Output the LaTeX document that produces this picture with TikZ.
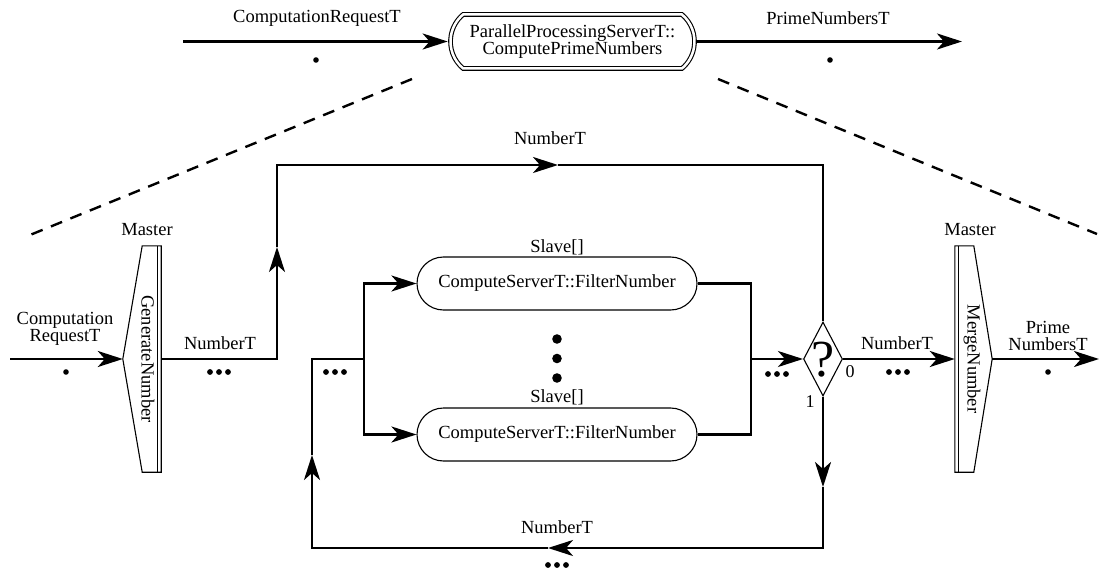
\documentclass[tikz,border=0pt]{standalone}
\usepackage{fontspec}
\setmainfont{Liberation Serif}
\usetikzlibrary{arrows.meta,shapes.geometric,shapes.misc,calc}
\begin{document}
\begin{tikzpicture}[x=1pt,y=-1pt,
  txt/.style={font=\fontsize{18.5}{17}\selectfont, inner sep=0pt},
  conn/.style={line width=2.6pt},
  tip/.style={-{Stealth[length=25pt,width=16pt,inset=7pt]}},
  outline/.style={line width=1.1pt, line join=miter},
  proc/.style={rounded rectangle, draw, outline, minimum width=280pt,
    minimum height=53pt, inner sep=0pt, txt},
  dashline/.style={line width=2.4pt, dash pattern=on 12pt off 9pt},
  onedot/.pic={\fill (0,0) circle (2.8pt);},
  tridots/.pic={\foreach \dx in {-9,0,9} \fill (\dx,0) circle (2.9pt);},
  branch/.style={font=\fontsize{18}{18}\selectfont, inner sep=0pt},
]
\useasboundingbox (0,0) rectangle (1100,572);

% ---- top level: the whole server process ----
\node[rounded rectangle, rounded rectangle arc length=100, draw, outline,
      double, double distance=2.5pt, minimum width=244pt, minimum height=54pt,
      inner sep=0pt, align=center, txt] (top) at (572.5,41.5)
      {ParallelProcessingServerT::\\ComputePrimeNumbers};
\coordinate (reqin) at (183,41.5);
\coordinate (primeout) at (962,41.5);
\draw[conn,tip,shorten >=2.3pt] (reqin) -- (top.west);
\draw[conn,tip,shorten <=2.3pt] (top.east) -- (primeout);
\node[txt] (toplblin) at (317,18) {ComputationRequestT};
\pic at (316,60) {onedot};
\node[txt] (toplblout) at (828,18) {PrimeNumbersT};
\pic at (830,60) {onedot};

% expansion lines
\coordinate (dl1) at (412,79);
\coordinate (dl2) at (30,235);
\coordinate (dr1) at (718,79);
\coordinate (dr2) at (1097,234);
\draw[dashline] (dl1) -- (dl2);
\draw[dashline] (dr1) -- (dr2);

% ---- generator (master) ----
\node[minimum width=38pt, minimum height=226pt, inner sep=0pt] (gen) at (142,359) {};
\draw[outline] (gen.north east) -- ++(-19,0) -- (gen.west)
  -- ($(gen.south east)+(-19,0)$) -- (gen.south east) -- cycle;
\draw[outline] ($(gen.north east)+(-4,0)$) -- ($(gen.south east)+(-4,0)$);
\node[txt, rotate=-90] (gentxt) at (148,359) {GenerateNumber};
\node[txt] (genmaster) at (147,230) {Master};
\coordinate (reqin2) at (10,359);
\draw[conn,tip] (reqin2) -- (gen.west);
\node[txt, align=center] (genlbl) at (65,329) {Computation\\RequestT};
\pic at (66,372) {onedot};

% ---- slaves ----
\node[proc] (s1) at (557,283.5) {ComputeServerT::FilterNumber};
\node[proc] (s2) at (557,434.5) {ComputeServerT::FilterNumber};
\node[txt] (s1lbl) at (557,247) {Slave[]};
\node[txt] (s2lbl) at (557,397) {Slave[]};
\foreach \yy in {339,358.5,378} \fill (557,\yy) circle (4.8pt);

% ---- decision ----
\node[diamond, draw, outline, minimum width=39pt, minimum height=74pt,
      inner sep=0pt] (dec) at (823,359) {};
\node[font=\fontsize{52}{52}\selectfont, inner sep=0pt] (q) at (823,360) {?};
\node[branch] (zero) at (850,372) {0};
\node[branch] (one) at (810,402) {1};

% ---- merger (master) ----
\node[minimum width=37pt, minimum height=226pt, inner sep=0pt] (merge) at (973.5,359) {};
\draw[outline] (merge.north west) -- ++(19,0) -- (merge.east)
  -- ($(merge.south west)+(19,0)$) -- (merge.south west) -- cycle;
\draw[outline] ($(merge.north west)+(3.5,0)$) -- ($(merge.south west)+(3.5,0)$);
\node[txt, rotate=-90] (mergetxt) at (972,359) {MergeNumber};
\node[txt] (mergemaster) at (970,230) {Master};
\coordinate (primeout2) at (1099,359);
\draw[conn,tip] (merge.east) -- (primeout2);
\node[txt, align=center] (mergelbl) at (1048,336) {Prime\\NumbersT};
\pic at (1048,372) {onedot};

% ---- connectors ----
\coordinate (c1) at (277,247);
\coordinate (c2) at (558,165);
\draw[conn,tip] (gen.east) -| (c1);
\draw[conn,tip] (c1) |- (c2);
\draw[conn] (c2) -| (dec.north);
\node[txt] (genout) at (220,343) {NumberT};
\pic at (219,372) {tridots};
\node[txt] (toplbl) at (550,138) {NumberT};

\draw[conn,tip] (dec.east) -- (merge.west);
\node[txt] (declbl) at (897,343) {NumberT};
\pic at (898,372) {tridots};

\coordinate (c3) at (823,487);
\coordinate (c4) at (548,548);
\coordinate (c5) at (312,455);
\coordinate (fork) at (364,359);
\coordinate (join) at (751,359);
\draw[conn,tip] (dec.south) -- (c3);
\draw[conn,tip] (c3) |- (c4);
\draw[conn,tip] (c4) -| (c5);
\draw[conn] (c5) |- (fork);
\draw[conn,tip] (fork) |- (s1.west);
\draw[conn,tip] (fork) |- (s2.west);
\draw[conn] (s1.east) -| (join);
\draw[conn] (s2.east) -| (join);
\draw[conn,tip] (join) -- (dec.west);
\node[txt] (looplbl) at (557,527) {NumberT};
\pic at (557,565) {tridots};
\pic at (335,372) {tridots};
\pic at (777,374) {tridots};
\end{tikzpicture}
\end{document}
